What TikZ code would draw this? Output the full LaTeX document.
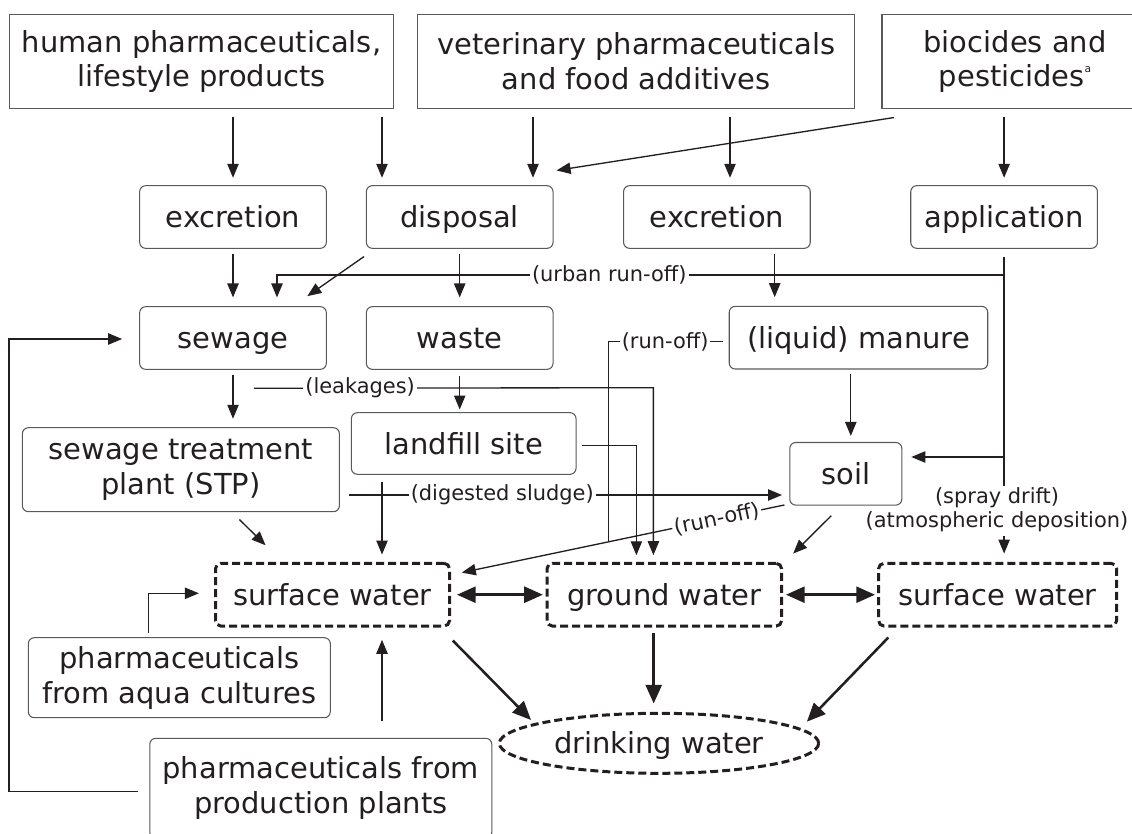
\documentclass[tikz,border=0pt]{standalone}
\usepackage{fontspec}
\setmainfont{DejaVu Sans}
\usetikzlibrary{shapes,arrows.meta,positioning,calc}
\definecolor{ink}{HTML}{231F20}
\definecolor{edge}{HTML}{58595B}
\newcommand{\boxfont}{\fontsize{21.7}{26.2}\selectfont}
\newcommand{\lblfont}{\fontsize{15.7}{18}\selectfont}
\tikzset{
  smalltip/.tip={Triangle[length=10.5pt,width=8.5pt]},
  bigtip/.tip={Triangle[length=14pt,width=12pt]},
  srcbox/.style={draw=edge, line width=0.8pt, text=ink, font=\boxfont, align=center, inner sep=0pt},
  flowbox/.style={srcbox, rounded corners=4.5pt},
  onebox/.style={flowbox, text height=17pt, text depth=1pt},
  waterbox/.style={draw=ink, line width=2.25pt, dash pattern=on 6pt off 3pt, rounded corners=4pt, text=ink, font=\boxfont, inner sep=0pt, text height=17pt, text depth=1pt},
  lbl/.style={fill=white, text=ink, font=\lblfont, inner sep=1.5pt},
  wire/.style={draw=ink, line width=1pt},
  conn/.style={wire, -smalltip, shorten <=3.5pt, shorten >=5.5pt},
  bigarr/.style={draw=ink, line width=1.9pt, -bigtip},
}

\begin{document}
\begin{tikzpicture}[x=0.75pt,y=0.75pt,yscale=-1,xscale=1]
    \useasboundingbox (0,0) rectangle (1132,834);

    % Text Node
    \node[srcbox, minimum width=288pt, minimum height=70.2pt] (hum) at (201.5,61.5) {human pharmaceuticals,\\lifestyle products};
    % Text Node
    \node[srcbox, minimum width=327.75pt, minimum height=70.2pt] (vet) at (636.3,61.5) {veterinary pharmaceuticals\\and food additives};
    % Text Node
    \node[srcbox, minimum width=199.5pt, minimum height=70.2pt] (bio) at (1015,61.5) {biocides and\\pesticides\raisebox{0.9ex}{\fontsize{8}{8}\selectfont a}};

    % Text Node
    \node[onebox, minimum width=140pt, minimum height=47pt] (exc1) at (233,217) {excretion};
    % Text Node
    \node[onebox, minimum width=140pt, minimum height=47pt] (disp) at (459.7,217) {disposal};
    % Text Node
    \node[onebox, minimum width=140pt, minimum height=47pt] (exc2) at (716.9,217) {excretion};
    % Text Node
    \node[onebox, minimum width=140pt, minimum height=47pt] (appl) at (1004.1,217) {application};

    % Text Node
    \node[onebox, minimum width=140pt, minimum height=47pt] (sew) at (233,338) {sewage};
    % Text Node
    \node[onebox, minimum width=140pt, minimum height=47pt] (wst) at (459.7,338) {waste};
    % Text Node
    \node[onebox, minimum width=193.9pt, minimum height=47pt] (man) at (858.5,337.7) {(liquid) manure};

    % Text Node
    \node[flowbox, minimum width=237.75pt, minimum height=63pt] (stp) at (180.9,469.7) {sewage treatment\\plant (STP)};
    % Text Node
    \node[onebox, minimum width=168.5pt, minimum height=46.2pt] (land) at (463.7,443.5) {landfill site};
    % Text Node
    \node[onebox, minimum width=84pt, minimum height=47pt] (soil) at (845.8,473.8) {soil};
    % Text Node
    \node[lbl, fill=none, align=center] (spray) at (997,510) {(spray drift)\\(atmospheric deposition)};

    % Text Node
    \node[waterbox, minimum width=175.5pt, minimum height=47pt] (sw1) at (332.5,594.7) {surface water};
    % Text Node
    \node[waterbox, minimum width=175.9pt, minimum height=47pt] (gw) at (664.3,594.7) {ground water};
    % Text Node
    \node[waterbox, minimum width=178.5pt, minimum height=47pt] (sw2) at (997.6,594.7) {surface water};

    % Text Node
    \node[flowbox, minimum width=226.5pt, minimum height=60pt] (aqua) at (179.3,677.7) {pharmaceuticals\\from aqua cultures};
    % Text Node
    \node[flowbox, minimum width=256.5pt, minimum height=75pt] (prod) at (320.8,788.3) {pharmaceuticals from\\production plants};
    % Text Node
    \node[waterbox, ellipse, minimum width=239.5pt, minimum height=45pt] (drink) at (659,743.3) {drinking water};

    %Straight Lines
    \draw[conn, shorten <=6.5pt] (exc1.north |- hum.south) -- (exc1.north);
    \draw[conn, shorten <=6.5pt] (382,0 |- hum.south) -- (382,0 |- disp.north);
    \draw[conn, shorten <=6.5pt] (533,0 |- vet.south) -- (533,0 |- disp.north);
    \draw[conn, shorten <=6.5pt] (730,0 |- vet.south) -- (730,0 |- exc2.north);
    \draw[conn, shorten <=6.5pt] (appl.north |- bio.south) -- (appl.north);
    \draw[conn, shorten <=0pt, shorten >=0pt] ($(bio.south west)+(12.5,8.7)$) -- ($(disp.north east)+(3,-14.7)$);

    %Straight Lines
    \draw[conn, shorten >=6.5pt] (sew.north |- exc1.south) -- (sew.north);
    \draw[conn, shorten <=0pt, shorten >=0pt] ($(disp.south west)+(-1.8,7.7)$) -- ($(sew.north east)+(-19.5,-10)$);
    \draw[conn, shorten >=6.5pt] (wst.north |- disp.south) -- (wst.north);
    \draw[conn, shorten >=6.5pt] (774.7,0 |- exc2.south) -- (774.7,0 |- man.north);

    %Straight Lines
    \draw[wire, shorten <=5.8pt] (appl.south) -- (appl.south |- spray.north);
    \draw[conn, shorten <=0pt, shorten >=6.5pt] (appl.south |- 0,275) -- node[lbl, pos=0.543] {(urban run-off)} (277,275) -- (277,0 |- sew.north);
    \draw[conn, shorten <=0pt, shorten >=6.75pt] (appl.south |- 0,457) -- (soil.east |- 0,457);
    \draw[conn, shorten <=1pt, shorten >=6.2pt] (appl.south |- spray.south) -- (appl.south |- sw2.north);

    %Straight Lines
    \draw[conn, shorten >=6.3pt] (sew.south) -- (sew.south |- stp.north);
    \draw[conn, shorten <=0pt, shorten >=5pt] ($(sew.south)+(20.8,18.4)$) -- node[lbl, pos=0.266] {(leakages)} (653.4,387.7) -- (653.4,0 |- gw.north);
    \draw[conn, shorten <=4.3pt, shorten >=2pt] (wst.south) -- (wst.south |- land.north);
    \draw[conn, shorten <=0pt, shorten >=0pt] ($(land.east)+(5,2.2)$) -| ($(gw.north)+(-27.9,-6.6)$);
    \draw[conn, shorten <=5.5pt, shorten >=5.5pt] (382,0 |- land.south) -- (382,0 |- sw1.north);
    \draw[conn, shorten <=0pt, shorten >=0pt] ($(stp.south)+(58.5,7.3)$) -- ($(sw1.north west)+(51.6,-16.6)$);

    %Straight Lines
    \draw[wire] ($(man.west)+(-6,4)$) -- node[lbl, pos=0.503] {(run-off)} (608.2,341.7) -- (608.2,542.3);
    \draw[conn, shorten <=0pt, shorten >=0pt] ($(soil.south west)+(-4.8,-0.7)$) -- node[lbl, pos=0.21, rotate=12.1] {(run-off)} ($(sw1.north east)+(10.8,10.7)$);
    \draw[conn, shorten <=0pt, shorten >=0pt] ($(stp.east)+(9,25.3)$) -- node[lbl, pos=0.354] {(digested sludge)} ($(soil.west)+(-7.2,21.2)$);
    \draw[conn, shorten <=3.5pt, shorten >=4.5pt] (850.8,0 |- man.south) -- (850.8,0 |- soil.north);
    \draw[conn, shorten <=0pt, shorten >=0pt] ($(soil.south)+(-14.5,10)$) -- ($(gw.north east)+(10.1,-8.3)$);

    %Straight Lines
    \draw[bigarr, bigtip-bigtip, shorten <=4.5pt, shorten >=2pt] (sw1.east) -- (gw.west);
    \draw[bigarr, bigtip-bigtip, shorten <=2.2pt, shorten >=1.6pt] (gw.east) -- (sw2.west);
    \draw[bigarr] ($(sw1.south east)+(1.8,13)$) -- ($(drink.west)+(33.2,-23.3)$);
    \draw[bigarr, shorten <=3.8pt, shorten >=6.2pt] (653.7,0 |- gw.south) -- (653.7,0 |- drink.north);
    \draw[bigarr] ($(sw2.south west)+(11.2,10)$) -- ($(drink.east)+(-13.3,-21.6)$);

    %Straight Lines
    \draw[conn, shorten <=0pt, shorten >=0pt] ($(aqua.north)+(-30.6,-4.4)$) |- ($(sw1.west)+(-15.1,-1.4)$);
    \draw[conn, shorten <=12.5pt, shorten >=9.2pt] (382,0 |- prod.north) -- (382,0 |- sw1.south);
    \draw[conn, shorten <=0pt, shorten >=0pt] ($(prod.west)+(-10.8,3.4)$) -| ($(sew.west)+(-130,1)$) -- ($(sew.west)+(-17,1)$);

\end{tikzpicture}
\end{document}
